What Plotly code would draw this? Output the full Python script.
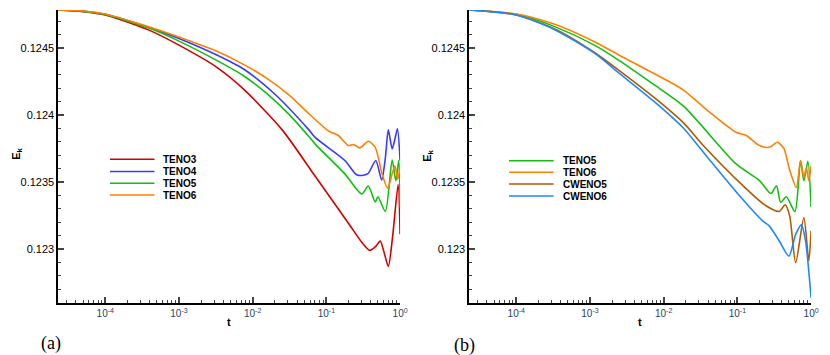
import plotly.graph_objects as go

# ---- data ----
# panel (a)
t_teno3 = [2.32e-5, 5e-5, 1e-4, 4e-4, 1e-3, 3.16e-3, 7.6e-3, 2.5e-2, 7.1e-2, 0.2, 0.302, 0.389,
           0.468, 0.537, 0.603, 0.692, 0.794, 0.94, 1.0]
e_teno3 = [0.124782, 0.12477, 0.124745, 0.12463, 0.12452, 0.12436, 0.12419, 0.12389, 0.12354,
           0.12319, 0.12305, 0.12299, 0.12302, 0.12306, 0.12298, 0.12287, 0.12310, 0.12348, 0.12311]

t_teno4 = [2.32e-5, 5e-5, 1e-4, 4e-4, 1e-3, 3.16e-3, 7.6e-3, 2.04e-2, 5.75e-2, 7.1e-2, 0.178,
           0.257, 0.316, 0.37, 0.468, 0.562, 0.631, 0.692, 0.78, 0.851, 0.92, 1.0]
e_teno4 = [0.124782, 0.124775, 0.12475, 0.12465, 0.12457, 0.12445, 0.12434, 0.12415, 0.12389,
           0.12383, 0.12366, 0.123554, 0.12355, 0.123564, 0.12366, 0.123514, 0.12368, 0.123889,
           0.123746, 0.12382, 0.123896, 0.123659]

t_teno5 = [2.32e-5, 5e-5, 1e-4, 4e-4, 1e-3, 3.16e-3, 7.6e-3, 1.55e-2, 3.16e-2, 5.75e-2, 7.1e-2,
           0.178, 0.302, 0.37, 0.46, 0.5, 0.631, 0.78, 0.875, 0.96, 1.0]
e_teno5 = [0.124782, 0.124772, 0.124748, 0.124645, 0.12455, 0.12441, 0.12429, 0.12416, 0.12400,
           0.12384, 0.12378, 0.12356, 0.12341, 0.12347, 0.12335, 0.12339, 0.12328, 0.123664,
           0.123509, 0.123659, 0.123309]

t_teno6 = [2.32e-5, 5e-5, 1e-4, 4e-4, 1e-3, 3.16e-3, 7.6e-3, 1.58e-2, 3.24e-2, 5.75e-2, 0.107, 0.145,
           0.2, 0.232, 0.285, 0.37, 0.46, 0.562, 0.676, 0.847, 0.93, 1.0]
e_teno6 = [0.124782, 0.124775, 0.124752, 0.124655, 0.12458, 0.124478, 0.124375, 0.12427, 0.12414,
           0.12401, 0.12388, 0.123846, 0.123771, 0.123779, 0.123754, 0.123803, 0.123758, 0.123571,
           0.123454, 0.123621, 0.12352, 0.12362]

# panel (b)
t_b_teno5 = [2.32e-5, 1e-4, 3.33e-4, 1.15e-3, 2.5e-3, 7.4e-3, 1.86e-2, 9.6e-2, 0.2, 0.285, 0.339,
             0.387, 0.461, 0.603, 0.718, 0.798, 0.904, 1.0]
e_b_teno5 = [0.124782, 0.12475, 0.124658, 0.12452, 0.124405, 0.124225, 0.124065, 0.123634,
             0.123509, 0.123414, 0.123472, 0.123347, 0.123389, 0.123279, 0.123659, 0.123509,
             0.123654, 0.123314]

t_b_teno6 = [2.32e-5, 1e-4, 3.33e-4, 1.15e-3, 2.5e-3, 1.1e-2, 1.86e-2, 3.47e-2, 9.6e-2, 0.132, 0.2,
             0.27, 0.35, 0.43, 0.5, 0.631, 0.718, 0.798, 0.865, 0.93, 1.0]
e_b_teno6 = [0.124782, 0.124752, 0.124675, 0.124545, 0.124445, 0.124258, 0.124185, 0.124058,
             0.123871, 0.123846, 0.123771, 0.123758, 0.123796, 0.123746, 0.123609, 0.123459,
             0.123659, 0.123534, 0.123604, 0.123509, 0.123621]

t_cweno5 = [2.32e-5, 1e-4, 3.33e-4, 1.15e-3, 2.5e-3, 7.4e-3, 1.86e-2, 3.47e-2, 0.119, 0.244, 0.37,
            0.444, 0.512, 0.617, 0.798, 0.93, 1.0]
e_cweno5 = [0.124782, 0.124745, 0.12464, 0.124465, 0.12433, 0.12413, 0.12394, 0.12377,
            0.123472, 0.123322, 0.12328, 0.12333, 0.123247, 0.122897, 0.123234, 0.12291, 0.123135]

t_cweno6 = [2.32e-5, 1e-4, 3.33e-4, 1.15e-3, 2.5e-3, 7.4e-3, 1.86e-2, 3.47e-2, 0.107, 0.22, 0.27,
            0.37, 0.5, 0.617, 0.741, 0.84, 1.0]
e_cweno6 = [0.124782, 0.124745, 0.124635, 0.12446, 0.12431, 0.1241, 0.1239, 0.12372,
            0.123397, 0.12321, 0.123172, 0.12306, 0.122947, 0.123109, 0.12318, 0.12306, 0.122635]

y_ticks = [0.123, 0.1235, 0.124, 0.1245]
y_labels = ["0.123", "0.1235", "0.124", "0.1245"]
x_ticks = [1e-4, 1e-3, 1e-2, 1e-1, 1]
x_labels = ["10<sup>-4</sup>", "10<sup>-3</sup>", "10<sup>-2</sup>", "10<sup>-1</sup>", "10<sup>0</sup>"]

left_series = [("TENO3", t_teno3, e_teno3, "#d40000"),
               ("TENO4", t_teno4, e_teno4, "#3a3aff"),
               ("TENO5", t_teno5, e_teno5, "#10c010"),
               ("TENO6", t_teno6, e_teno6, "#ff8000")]
right_series = [("TENO5", t_b_teno5, e_b_teno5, "#10c010"),
                ("TENO6", t_b_teno6, e_b_teno6, "#ff8000"),
                ("CWENO5", t_cweno5, e_cweno5, "#b05a00"),
                ("CWENO6", t_cweno6, e_cweno6, "#1e88ff")]

W, H = 830, 355
fig = go.Figure()
for name, t, e, c in left_series:
    fig.add_trace(go.Scatter(x=t, y=e, mode="lines", name=name, xaxis="x", yaxis="y",
                             line=dict(color=c, width=1.6, shape="spline", smoothing=0.7),
                             showlegend=False))
for name, t, e, c in right_series:
    fig.add_trace(go.Scatter(x=t, y=e, mode="lines", name=name, xaxis="x2", yaxis="y2",
                             line=dict(color=c, width=1.6, shape="spline", smoothing=0.7),
                             showlegend=False))

minor_x = [m * 10 ** d for d in range(-5, 0) for m in range(2, 10)]
axis_font = dict(family="Liberation Sans, Arial", size=11, color="black")

xax = dict(type="log", range=[-4.635, 0], tickmode="array", tickvals=x_ticks, ticktext=x_labels,
           ticks="inside", ticklen=6, tickwidth=1.5, showline=True, linewidth=2, linecolor="black",
           showgrid=False, zeroline=False, tickfont=dict(family="Liberation Sans, Arial", size=10),
           minor=dict(tickmode="array", tickvals=minor_x, ticks="inside", ticklen=3, tickwidth=1,
                      showgrid=False))
yax = dict(range=[0.122595, 0.124782], tickmode="array", tickvals=y_ticks, ticktext=y_labels,
           ticks="inside", ticklen=6, tickwidth=1.5, showline=True, linewidth=2, linecolor="black",
           showgrid=False, zeroline=False, tickfont=axis_font,
           minor=dict(dtick=0.0001, ticks="inside", ticklen=3, tickwidth=1, showgrid=False))

fig.update_layout(
    width=W, height=H, margin=dict(l=0, r=0, t=0, b=0),
    paper_bgcolor="white", plot_bgcolor="white",
    xaxis=dict(xax, domain=[59 / W, 404 / W], anchor="y"),
    yaxis=dict(yax, domain=[1 - 303.3 / H, 1 - 10 / H], anchor="x"),
    xaxis2=dict(xax, domain=[474 / W, 819 / W], anchor="y2"),
    yaxis2=dict(yax, domain=[1 - 303.3 / H, 1 - 10 / H], anchor="x2"),
)

ann = []
shapes = []
bold = dict(family="Liberation Sans, Arial", size=11, color="black")
for cx in (231.5, 646.5):
    ann.append(dict(x=cx / W, y=1 - 322 / H, xref="paper", yref="paper", text="<b>t</b>",
                    showarrow=False, font=bold, xanchor="center", yanchor="middle"))
for cx, cy in ((17, 154), (432, 156)):
    ann.append(dict(x=cx / W, y=1 - cy / H, xref="paper", yref="paper", text="<b>E<sub>k</sub></b>",
                    showarrow=False, font=bold, textangle=-90, xanchor="center", yanchor="middle"))
for lab, cx, cy in (("(a)", 51, 343), ("(b)", 469, 345)):
    ann.append(dict(x=cx / W, y=1 - cy / H, xref="paper", yref="paper", text=lab, showarrow=False,
                    xanchor="center", yanchor="middle",
                    font=dict(family="Liberation Serif, Times New Roman", size=18, color="black")))

# legends
for series, x0, ys in ((left_series, 111, [159.3, 171.5, 183.3, 195]),
                       (right_series, 514, [160.7, 172.3, 184, 196])):
    for (name, _, _, c), yy in zip(series, ys):
        shapes.append(dict(type="line", xref="paper", yref="paper", x0=x0 / W, x1=(x0 + 45) / W,
                           y0=1 - yy / H, y1=1 - yy / H, line=dict(color=c, width=1.5)))
        ann.append(dict(x=(x0 + 52) / W, y=1 - yy / H, xref="paper", yref="paper",
                        text="<b>%s</b>" % name, showarrow=False, xanchor="left", yanchor="middle",
                        font=dict(family="Liberation Sans, Arial", size=10, color="black")))

fig.update_layout(annotations=ann, shapes=shapes)
fig.write_html("out.html", config={"displayModeBar": False},
               post_script="document.body.style.margin='0';")
